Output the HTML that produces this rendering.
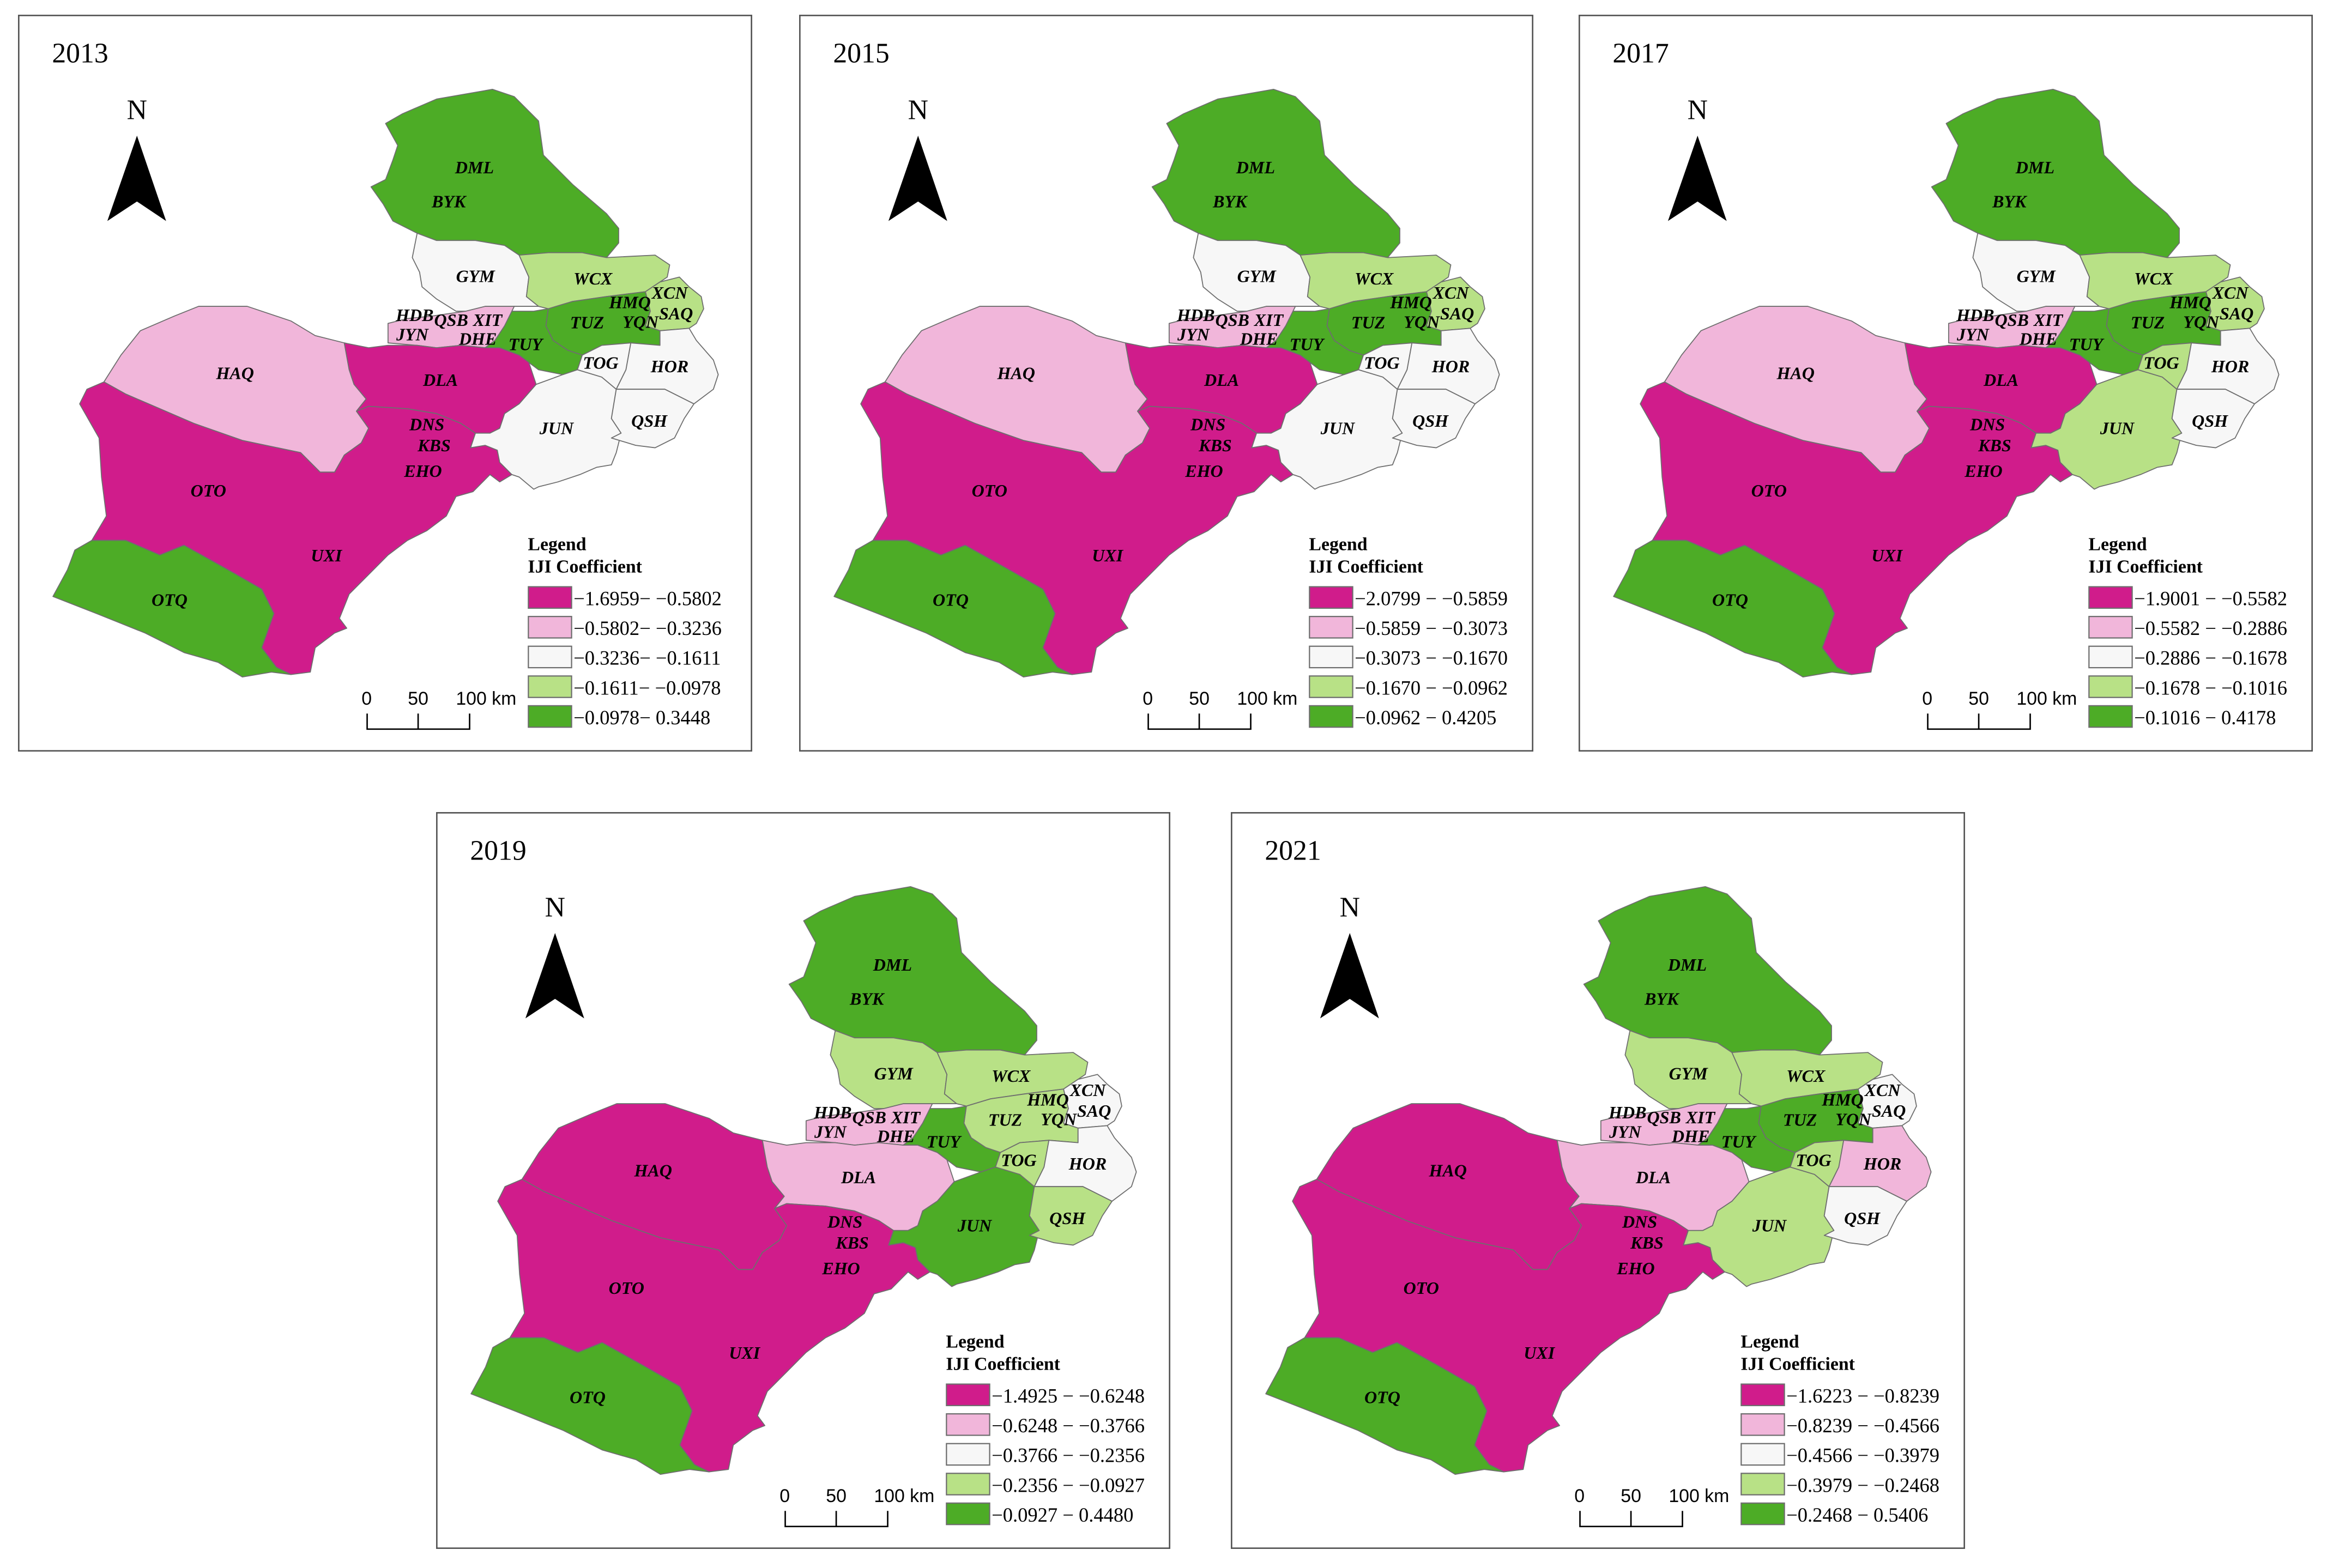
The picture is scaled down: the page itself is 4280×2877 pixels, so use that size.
<!DOCTYPE html>
<html><head><meta charset="utf-8">
<style>
html,body{margin:0;padding:0;background:#fff;}
body{width:4280px;height:2877px;position:relative;overflow:hidden;}
svg.panel{position:absolute;}
</style></head>
<body>
<div id="root"></div>
<script>
// ---- data ----
const years = ["2013","2015","2017","2019","2021"];
const classColors = ["#d01c8b","#f1b6da","#f7f7f7","#b8e186","#4dac26"];
const regionNames = ["DML","GYM","WCX","XCN","TUZ","TUY","SMALL","HAQ","DLA","MAIN","OTQ","JUN","TOG","HOR","QSH"];
const class2013 = [4,2,3,3,4,4,1,1,0,0,4,2,2,2,2];
const class2015 = [4,2,3,3,4,4,1,1,0,0,4,2,2,2,2];
const class2017 = [4,2,3,3,4,4,1,1,0,0,4,3,3,2,2];
const class2019 = [4,3,3,2,3,4,1,0,1,0,4,4,3,2,3];
const class2021 = [4,3,3,2,4,4,1,0,1,0,4,3,3,1,2];
const legend2013 = ["−1.6959− −0.5802","−0.5802− −0.3236","−0.3236− −0.1611","−0.1611− −0.0978","−0.0978− 0.3448"];
const legend2015 = ["−2.0799 − −0.5859","−0.5859 − −0.3073","−0.3073 − −0.1670","−0.1670 − −0.0962","−0.0962 − 0.4205"];
const legend2017 = ["−1.9001 − −0.5582","−0.5582 − −0.2886","−0.2886 − −0.1678","−0.1678 − −0.1016","−0.1016 − 0.4178"];
const legend2019 = ["−1.4925 − −0.6248","−0.6248 − −0.3766","−0.3766 − −0.2356","−0.2356 − −0.0927","−0.0927 − 0.4480"];
const legend2021 = ["−1.6223 − −0.8239","−0.8239 − −0.4566","−0.4566 − −0.3979","−0.3979 − −0.2468","−0.2468 − 0.5406"];
const classesByYear = [class2013,class2015,class2017,class2019,class2021];
const legendByYear = [legend2013,legend2015,legend2017,legend2019,legend2021];

// ---- geometry (map units) ----
const shapes = {
DML:"795,255 830,235 900,205 1015,185 1060,200 1110,250 1120,320 1180,380 1250,440 1275,470 1275,500 1250,530 1200,520 1130,520 1070,525 1040,505 980,495 900,495 860,480 810,455 790,420 765,385 795,370 810,330 820,300",
GYM:"860,480 900,495 980,495 1040,505 1070,525 1090,570 1085,610 1110,630 1060,630 1000,640 940,640 900,615 870,590 865,560 850,530",
WCX:"1070,525 1130,520 1200,520 1250,530 1350,525 1380,545 1375,570 1360,580 1330,600 1250,610 1180,620 1130,635 1110,630 1085,610 1090,570",
XCN:"1360,580 1400,570 1420,590 1445,610 1450,635 1435,665 1420,675 1360,680 1330,670 1340,640 1330,600",
TUZ:"1130,635 1180,620 1250,610 1330,600 1340,640 1330,670 1360,680 1360,710 1300,705 1240,710 1200,730 1170,720 1140,700 1125,670",
TUY:"1040,640 1100,640 1130,635 1125,670 1140,700 1170,720 1200,730 1190,760 1160,770 1110,760 1090,745 1070,730 1030,715 1000,715 1020,700 1040,670",
SMALL:"800,665 840,655 890,650 960,640 1000,630 1060,630 1040,670 1020,700 1000,715 950,710 900,715 860,710 800,705",
HAQ:"215,785 250,730 290,680 360,650 410,630 510,630 600,660 650,690 710,705 720,760 730,790 755,820 735,845 760,880 745,910 710,935 690,970 660,970 620,930 500,905 400,870 330,840 260,810",
DLA:"710,705 760,715 800,710 860,710 900,715 950,710 1000,715 1030,715 1070,730 1090,745 1105,790 1070,830 1040,850 1030,880 1010,890 980,890 950,870 900,850 840,840 760,835 735,845 755,820 730,790 720,760",
MAIN:"215,785 260,810 330,840 400,870 500,905 620,930 660,970 690,970 710,935 745,910 760,880 735,845 760,835 840,840 900,850 950,870 980,890 970,920 1000,915 1025,925 1030,950 1055,975 1030,990 1010,975 975,1010 940,1020 920,1060 880,1090 840,1110 800,1140 760,1180 720,1220 700,1270 715,1290 690,1300 650,1330 640,1380 600,1385 570,1370 540,1330 565,1260 540,1210 470,1170 380,1120 330,1140 260,1110 190,1110 220,1060 210,980 205,900 165,830 180,800",
OTQ:"190,1110 260,1110 330,1140 380,1120 470,1170 540,1210 565,1260 540,1330 570,1370 600,1385 560,1380 500,1390 450,1360 380,1340 300,1300 200,1260 110,1225 140,1170 155,1130",
JUN:"1105,790 1160,770 1190,760 1240,775 1270,800 1260,860 1280,890 1270,930 1260,955 1230,960 1195,975 1150,990 1110,1000 1100,1005 1070,980 1055,975 1030,950 1025,925 1000,915 970,920 980,890 1010,890 1030,880 1040,850 1070,830",
TOG:"1200,730 1240,710 1300,705 1290,760 1270,800 1240,775 1190,760",
HOR:"1300,705 1360,710 1360,680 1420,675 1435,700 1470,740 1480,770 1470,800 1430,830 1370,800 1330,800 1270,800 1290,760",
QSH:"1270,800 1330,800 1370,800 1430,830 1410,860 1390,900 1350,920 1310,915 1260,900 1280,890 1260,860"
};
const labels = [["DML",978,345],["BYK",925,415],["GYM",980,568],["WCX",1222,573],["XCN",1380,602],["HMQ",1298,622],["SAQ",1393,645],["YQN",1320,662],["TUZ",1210,663],["HDB",855,648],["QSB",930,658],["XIT",1005,658],["JYN",850,688],["DHE",985,697],["TUY",1083,708],["TOG",1238,746],["HOR",1380,753],["HAQ",485,767],["DLA",908,781],["DNS",880,872],["KBS",895,915],["JUN",1147,880],["QSH",1338,865],["EHO",872,968],["OTO",430,1008],["UXI",673,1141],["OTQ",350,1232]];
const panelPos = [[33,27],[1466,27],[2896,27],[800,1490],[2258,1490]];
const PW=1347, PH=1352;
const NS="http://www.w3.org/2000/svg";
const root=document.getElementById('root');
function mk(tag,attrs,parent){const e=document.createElementNS(NS,tag);for(const k in attrs)e.setAttribute(k,attrs[k]);if(parent)parent.appendChild(e);return e;}

years.forEach((yr,i)=>{
  const svg=mk('svg',{class:'panel',width:PW,height:PH,viewBox:"38 32 1512 1511",preserveAspectRatio:"none"});
  svg.style.left=panelPos[i][0]+'px';svg.style.top=panelPos[i][1]+'px';
  
  
  root.appendChild(svg);
  const frame=mk('rect',{x:39.5,y:33.5,width:1509,height:1508,fill:'#fff',stroke:'#555','stroke-width':3},svg);
  
  
  const t=mk('text',{x:108,y:130,'font-family':'Liberation Serif, serif','font-size':58},svg);t.textContent=yr;
  
  
  // north arrow
  const n=mk('text',{x:283,y:246,'text-anchor':'middle','font-family':'Liberation Serif, serif','font-size':58},svg);n.textContent='N';
  
  
  const arr=mk('polygon',{points:"283,280 343,455 283,415 222,455",fill:'#000'},svg);
  
  
  // regions
  const cls=classesByYear[i];
  regionNames.forEach((r,j)=>{
    const p=mk('polygon',{points:shapes[r],fill:classColors[cls[j]],stroke:'#6e6e6e','stroke-width':2,'stroke-linejoin':'round'},svg);
    
    
  });
  labels.forEach(l=>{
    const tx=mk('text',{x:l[1],y:l[2]+12,'text-anchor':'middle','font-family':'Liberation Serif, serif','font-size':36,'font-weight':'bold','font-style':'italic'},svg);
    tx.textContent=l[0];
    
    
  });
  // legend
  const lg=mk('g',{},svg);
  
  
  const l1=mk('text',{x:1088,y:1130,'font-family':'Liberation Serif, serif','font-size':38,'font-weight':'bold'},lg);l1.textContent='Legend';
  const l2=mk('text',{x:1088,y:1176,'font-family':'Liberation Serif, serif','font-size':38,'font-weight':'bold'},lg);l2.textContent='IJI Coefficient';
  legendByYear[i].forEach((s,k)=>{
    const y=1205+k*61;
    const sw=mk('rect',{x:1089,y:y,width:89,height:44,fill:classColors[k],stroke:'#6e6e6e','stroke-width':2.5},lg);
    
    
    const lt=mk('text',{x:1182,y:y+38,'font-family':'Liberation Serif, serif','font-size':41},lg);lt.textContent=s;
    
    
  });
  // scale bar
  const sb=mk('g',{},svg);
  
  
  [["0",756],["50",862],["100 km",1002]].forEach(a=>{const st=mk('text',{x:a[1],y:1447,'text-anchor':'middle','font-family':'Liberation Sans, sans-serif','font-size':38},sb);st.textContent=a[0];});
  mk('path',{d:"M757,1465 V1497 H968 V1465 M862,1465 V1497",fill:'none',stroke:'#000','stroke-width':3},sb);
});
</script>
</body></html>
